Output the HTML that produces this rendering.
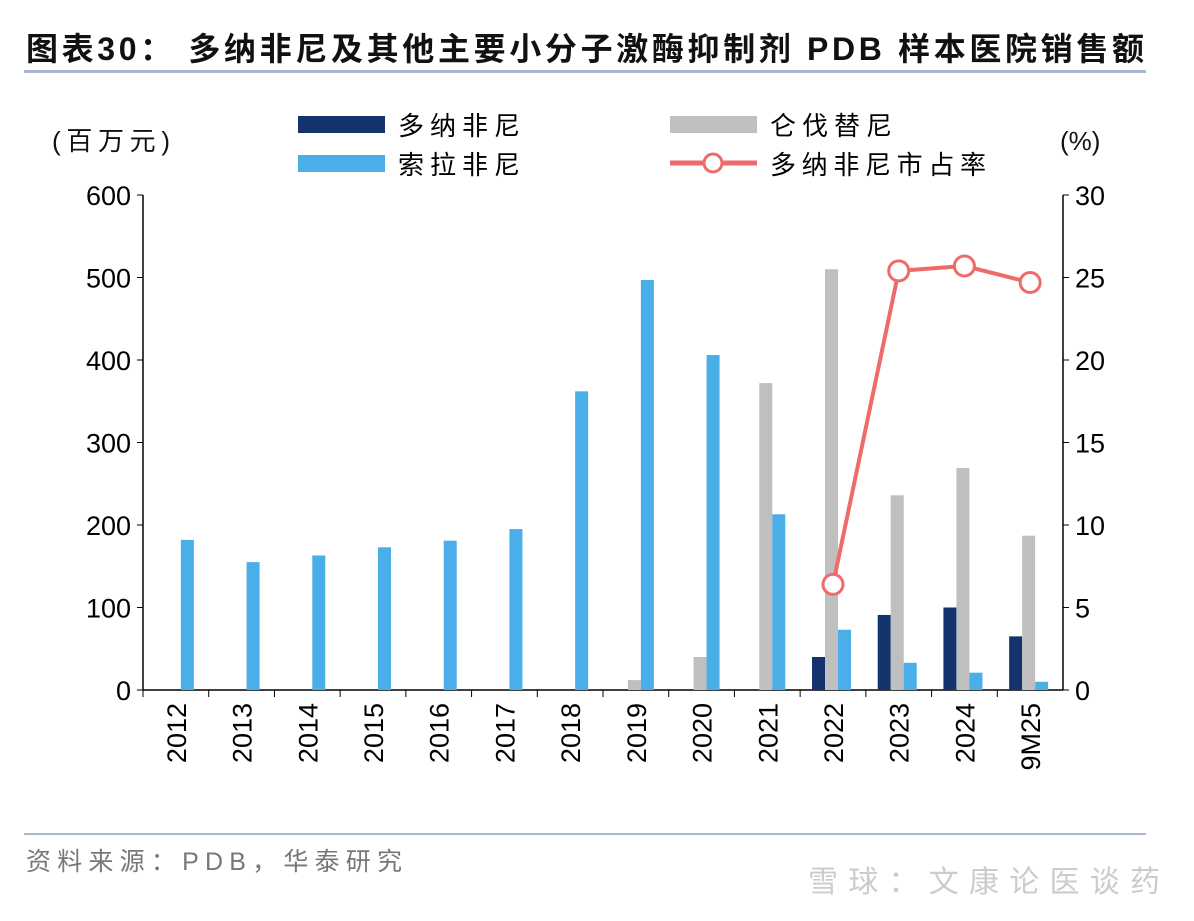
<!DOCTYPE html>
<html><head><meta charset="utf-8"><style>
body{margin:0;background:#fff;width:1194px;height:916px;overflow:hidden;font-family:"Liberation Sans","Noto Sans CJK SC",sans-serif;}
svg text{font-family:"Liberation Sans","Noto Sans CJK SC",sans-serif;}
</style></head><body>
<svg id="c" width="1194" height="916">
<text x="26" y="60" font-size="32" font-weight="bold" fill="#111" textLength="1118" lengthAdjust="spacing">图表30：  多纳非尼及其他主要小分子激酶抑制剂 PDB 样本医院销售额</text>
<rect x="24" y="70" width="1122" height="3" fill="#a9b8cf"/>
<rect x="24" y="833" width="1122" height="2" fill="#a9b8cf"/>
<text x="26" y="870" font-size="25" fill="#777" textLength="376" lengthAdjust="spacing">资料来源：PDB，华泰研究</text>
<text x="808" y="892" font-size="30" fill="#ccc" textLength="352" lengthAdjust="spacing">雪球：文康论医谈药</text>
<text x="52" y="150" font-size="26" fill="#111" textLength="118" lengthAdjust="spacing">(百万元)</text>
<text x="1060" y="150" font-size="26" fill="#111">(%)</text>
<g>
<rect x="298" y="116" width="87" height="17" fill="#12336b"/>
<text x="398" y="135" font-size="26" textLength="122" lengthAdjust="spacing">多纳非尼</text>
<rect x="298" y="155" width="87" height="17" fill="#4aaee8"/>
<text x="398" y="174" font-size="26" textLength="122" lengthAdjust="spacing">索拉非尼</text>
<rect x="670" y="116" width="87" height="17" fill="#bfbfbf"/>
<text x="770" y="135" font-size="26" textLength="122" lengthAdjust="spacing">仑伐替尼</text>
<line x1="670" y1="163" x2="757" y2="163" stroke="#ee6b6b" stroke-width="5"/>
<circle cx="713" cy="163" r="9" fill="#fff" stroke="#ee6b6b" stroke-width="3"/>
<text x="770" y="174" font-size="26" textLength="216" lengthAdjust="spacing">多纳非尼市占率</text>
</g>
<g id="plot"></g>
</svg>
<script>
const categories=["2012","2013","2014","2015","2016","2017","2018","2019","2020","2021","2022","2023","2024","9M25"];
const donafenib=[0,0,0,0,0,0,0,0,0,0,40,91,100,65];
const lenvatinib=[0,0,0,0,0,0,0,12,40,372,510,236,269,187];
const sorafenib=[182,155,163,173,181,195,362,497,406,213,73,33,21,10];
const share=[null,null,null,null,null,null,null,null,null,null,6.4,25.4,25.7,24.7];
const leftTicks=[0,100,200,300,400,500,600];
const rightTicks=[0,5,10,15,20,25,30];
const NS="http://www.w3.org/2000/svg",g=document.getElementById('plot');
const X0=143,X1=1063,Y0=690,Y1=195,bw=(X1-X0)/categories.length;
const yL=v=>Y0-(v/600)*(Y0-Y1), yR=v=>Y0-(v/30)*(Y0-Y1), xc=i=>X0+bw*(i+0.5);
function el(t,a){const e=document.createElementNS(NS,t);for(const k in a)e.setAttribute(k,a[k]);g.appendChild(e);return e;}
let e;
e=el('line',{x1:X0,y1:Y1,x2:X0,y2:Y0,stroke:'#000','stroke-width':1.5});


e=el('line',{x1:X1,y1:Y1,x2:X1,y2:Y0,stroke:'#000','stroke-width':1.5});


e=el('line',{x1:X0,y1:Y0,x2:X1,y2:Y0,stroke:'#000','stroke-width':1.5});


leftTicks.forEach(v=>{el('line',{x1:X0-6,y1:yL(v),x2:X0,y2:yL(v),stroke:'#000'});
e=el('text',{x:X0-12,y:yL(v)+10,'font-size':27,'text-anchor':'end'});e.textContent=v;

});
rightTicks.forEach(v=>{el('line',{x1:X1,y1:yR(v),x2:X1+6,y2:yR(v),stroke:'#000'});
e=el('text',{x:X1+12,y:yR(v)+10,'font-size':27});e.textContent=v;

});
categories.forEach((c,i)=>{
 el('line',{x1:X0+bw*i,y1:Y0,x2:X0+bw*i,y2:Y0+7,stroke:'#000'});
 const cx=xc(i);
 [[donafenib,'#12336b',-21,'bar-donafenib'],[lenvatinib,'#bfbfbf',-8,'bar-lenvatinib'],[sorafenib,'#4aaee8',5,'bar-sorafenib']].forEach(([arr,col,off,nm])=>{
  if(arr[i]>0){e=el('rect',{x:cx+off,y:yL(arr[i]),width:13,height:Y0-yL(arr[i]),fill:col});
  
  }
 });
 e=el('text',{x:0,y:0,'font-size':27,'text-anchor':'end',transform:`translate(${cx+10},${Y0+13}) rotate(-90)`});e.textContent=c;
 
 
});
const pts=share.map((v,i)=>v==null?null:[xc(i),yR(v)]).filter(p=>p);
e=el('polyline',{points:pts.map(p=>p.join(',')).join(' '),fill:'none',stroke:'#ee6b6b','stroke-width':4});


pts.forEach(p=>{e=el('circle',{cx:p[0],cy:p[1],r:10,fill:'#fff',stroke:'#ee6b6b','stroke-width':3});

});
</script>
</body></html>
